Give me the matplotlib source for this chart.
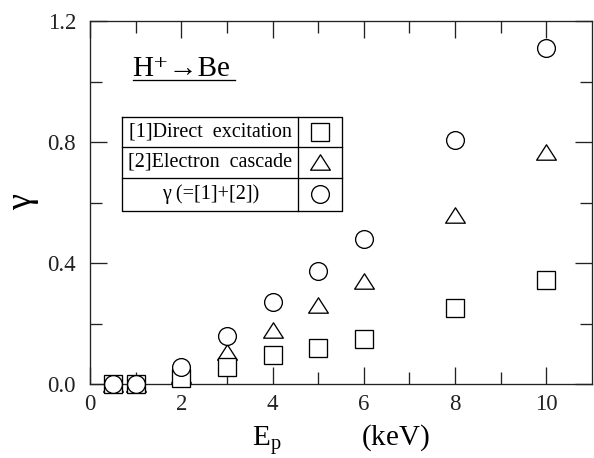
import matplotlib
matplotlib.use("Agg")
import matplotlib.pyplot as plt
from matplotlib.path import Path
from matplotlib.ticker import FixedLocator

plt.rcParams['font.family'] = ['Liberation Serif', 'DejaVu Serif']
plt.rcParams['mathtext.fontset'] = 'custom'
plt.rcParams['mathtext.rm'] = 'Liberation Serif'
plt.rcParams['mathtext.it'] = 'Liberation Serif:italic'

# Proton energy (keV) and secondary-emission yields
energy = [0.5, 1, 2, 3, 4, 5, 6, 8, 10]
direct_excitation = [0.0, 0.0, 0.02, 0.057, 0.096, 0.12, 0.15, 0.252, 0.345]
electron_cascade = [0.0, 0.0, 0.03, 0.105, 0.18, 0.26, 0.34, 0.56, 0.768]
gamma_total = [0.0, 0.0, 0.057, 0.16, 0.27, 0.374, 0.48, 0.805, 1.112]

x_ticks = [0, 2, 4, 6, 8, 10]
y_ticks = [0.0, 0.4, 0.8, 1.2]
y_ticklabels = ['0.0', '0.4', '0.8', '1.2']

legend_rows = ['[1]Direct  excitation', '[2]Electron  cascade', 'γ (=[1]+[2])']

# wide, flat triangle marker
tri = Path([(0, 0.78), (-1, -0.78), (1, -0.78), (0, 0.78)],
           [Path.MOVETO, Path.LINETO, Path.LINETO, Path.CLOSEPOLY])

fig = plt.figure(figsize=(5.94, 4.58), dpi=100)
ax = fig.add_axes([90 / 594, 1 - 384 / 458, 502 / 594, 363 / 458])

lw = 0.95
common = dict(linestyle='none', markerfacecolor='white', markeredgecolor='black',
              markeredgewidth=lw, clip_on=False)
ax.plot(energy, electron_cascade, marker=tri, markersize=14.2, zorder=3, **common)
ax.plot(energy, direct_excitation, marker='s', markersize=12.3, zorder=4, **common)
ax.plot(energy, gamma_total, marker='o', markersize=12.8, zorder=5, **common)

ax.set_xlim(0, 11)
ax.set_ylim(0, 1.2)
ax.xaxis.set_major_locator(FixedLocator(x_ticks))
ax.xaxis.set_minor_locator(FixedLocator([1, 3, 5, 7, 9]))
ax.yaxis.set_major_locator(FixedLocator(y_ticks))
ax.yaxis.set_minor_locator(FixedLocator([0.2, 0.6, 1.0]))
ax.set_yticklabels(y_ticklabels)
ax.tick_params(which='both', direction='in', top=True, right=True, width=lw,
               labelsize=16.5, colors='#222222')
ax.tick_params(axis='x', which='major', length=12.5, pad=7)
ax.tick_params(axis='y', which='major', length=12.5, pad=10)
ax.tick_params(which='minor', length=8.5)
for s in ax.spines.values():
    s.set_linewidth(lw)
    s.set_color('#222222')

ax.set_xlabel(r'E$_{\mathrm{p}}$' + '           (keV)', fontsize=21, labelpad=6)
ax.set_ylabel('γ', fontsize=26, rotation=90, labelpad=6)

# reaction label with underline
ax.text(0.085, 0.848, 'H⁺→Be', transform=ax.transAxes, fontsize=21,
        ha='left', va='baseline')
ax.plot([0.085, 0.289], [0.837, 0.837], transform=ax.transAxes, color='black',
        lw=lw, clip_on=False)

# legend drawn as a bordered table
x0, xd, x1 = 0.0643, 0.415, 0.5014
row_edges = [0.7364, 0.6537, 0.5667, 0.4774]
ax.plot([x0, x1, x1, x0, x0], [row_edges[0], row_edges[0], row_edges[-1], row_edges[-1], row_edges[0]],
        transform=ax.transAxes, color='black', lw=lw, zorder=6)
ax.plot([xd, xd], [row_edges[0], row_edges[-1]], transform=ax.transAxes,
        color='black', lw=lw, zorder=6)
for yy in row_edges[1:-1]:
    ax.plot([x0, x1], [yy, yy], transform=ax.transAxes, color='black', lw=lw, zorder=6)

markers = [('s', 12.3), (tri, 14.2), ('o', 12.8)]
for i, label in enumerate(legend_rows):
    yc = (row_edges[i] + row_edges[i + 1]) / 2
    ax.text((x0 + xd) / 2, yc, label, transform=ax.transAxes, fontsize=14.5,
            ha='center', va='center', zorder=7)
    m, ms = markers[i]
    ax.plot([(xd + x1) / 2], [yc], transform=ax.transAxes, marker=m, markersize=ms,
            zorder=7, **common)

fig.savefig('out.png', dpi=100)
